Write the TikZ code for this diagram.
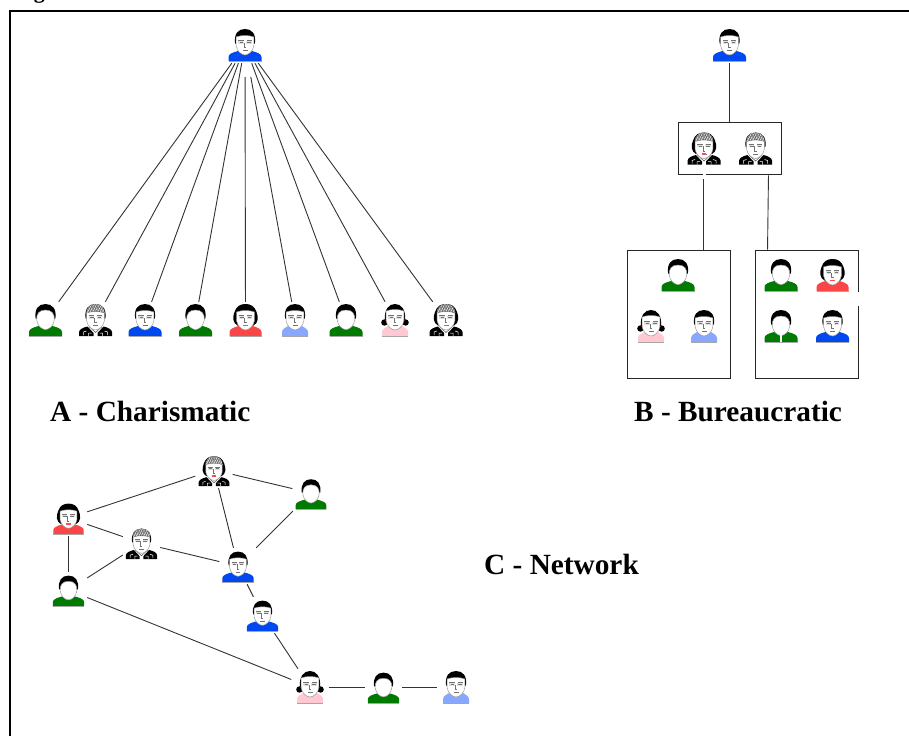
\documentclass[tikz,border=0pt]{standalone}
\usepackage{fontspec}
\setmainfont{Liberation Serif}
\usetikzlibrary{calc}
\definecolor{sgreen}{RGB}{0,122,0}
\definecolor{sblue}{RGB}{0,72,240}
\definecolor{slblue}{RGB}{136,168,255}
\definecolor{spink}{RGB}{255,200,210}
\definecolor{sred}{RGB}{250,70,70}
\definecolor{hatch}{RGB}{140,140,140}
\tikzset{
  pnode/.style={inner sep=0pt,minimum width=37pt,minimum height=36pt},
  conn/.style={draw=black!80,line width=0.9pt},
  frameline/.style={draw=black,line width=2.2pt},
  grp/.style={draw=black!85,line width=0.95pt,inner sep=0pt,fill=none},
  lbl/.style={font=\bfseries\fontsize{29.3}{32}\selectfont,inner sep=0pt,anchor=base west},
  feat/.style={draw=black!55,line width=0.5pt},
  faceedge/.style={draw=black!40,line width=0.5pt,fill=white}
}
% ---- parts, drawn about the bottom centre of the figure (y grows downward)
\newcommand{\shirtpart}[2]{%
  \fill[#1] (-#2,0) -- (-#2,-4) .. controls (-#2,-7) and (-#2+4,-8.5) .. (-7,-10) -- (0,-6) -- (7,-10)
     .. controls (#2-4,-8.5) and (#2,-7) .. (#2,-4) -- (#2,0) -- cycle;
  \draw[black!35,line width=0.4pt] (-#2,0) -- (#2,0);}
\newcommand{\capshort}[1]{%
  \fill[#1] (-9.9,-17.5) .. controls (-11.2,-27) and (-7,-32) .. (0,-32) .. controls (7,-32) and (11.2,-27) .. (9.9,-17.5) -- cycle;}
\newcommand{\caplong}[1]{%
  \fill[#1] (-8,-10.5) .. controls (-13,-13) and (-13,-19) .. (-11,-24) .. controls (-9,-30) and (-5,-32) .. (0,-32)
     .. controls (5,-32) and (9,-30) .. (11,-24) .. controls (13,-19) and (13,-13) .. (8,-10.5) -- cycle;}
\newcommand{\facepart}[1]{%
  \path[faceedge] (-8.8,-15) -- (-8.8,#1) .. controls (-4,#1-2) and (4,#1-2) .. (8.8,#1) -- (8.8,-15)
     .. controls (8,-10) and (3.5,-6) .. (0,-6) .. controls (-3.5,-6) and (-8,-10) .. (-8.8,-15) -- cycle;}
\newcommand{\featpart}{%
  \fill[black!12] (-6.8,-20.5) rectangle (-1.2,-17.4);
  \fill[black!12] (1.2,-20.5) rectangle (6.8,-17.4);
  \draw[feat] (-6.8,-20.6) -- (-1.5,-20.6) (1.5,-20.6) -- (6.8,-20.6);
  \draw[feat] (-5.5,-18.6) -- (-2,-18.6) (2,-18.6) -- (5.5,-18.6);
  \draw[feat] (-1,-18.5) -- (-1,-13.5) -- (1,-13.5);
  \draw[feat] (-2.5,-10.6) -- (2.5,-10.6);}
\newcommand{\lips}{\fill[red!70] (-2.2,-11.4) rectangle (2.2,-9.6);}
\newcommand{\jacket}{%
  \fill[black] (-16.5,0) -- (-16.5,-4) .. controls (-16,-7) and (-12,-8.5) .. (-8,-9.5) -- (-2,-3) -- (-2,0) -- cycle;
  \fill[black] (16.5,0) -- (16.5,-4) .. controls (16,-7) and (12,-8.5) .. (8,-9.5) -- (2,-3) -- (2,0) -- cycle;
  \draw[white,line width=0.5pt] (-12,-1) -- (-12,-4) -- (-9,-5) (12,-1) -- (12,-4) -- (9,-5) (-7,0) -- (-7,-3) -- (-4,-3) (7,0) -- (7,-3) -- (4,-3);
  \draw[black!70,line width=0.5pt] (-6.5,-9.5) -- (0,-3.5) -- (6.5,-9.5);}
\newcommand{\hatchhair}[2]{%
  \begin{scope}
    \clip (-9.2,#1) .. controls (-9.6,-27) and (-6,-32) .. (0,-32) .. controls (6,-32) and (9.6,-27) .. (9.2,#1) .. controls (4,#2) and (-4,#2) .. (-9.2,#1) -- cycle;
    \fill[hatch] (-11,-33) rectangle (11,-15);
    \foreach \hx in {-14,-11.5,...,12}{\draw[white,line width=0.45pt] (\hx,-22) -- (\hx+6,-33);
      \draw[black!70,line width=0.35pt] (\hx+1,-33) -- (\hx+7,-22);}
  \end{scope}}
% ---- figures
\newcommand{\fplain}[2]{\shirtpart{#1}{#2}\capshort{black}\facepart{-24}\featpart}
\newcommand{\fbald}[1]{\shirtpart{sgreen}{16.5}\capshort{black}\path[faceedge] (-8.8,-16) .. controls (-9.2,-22) and (-6.5,-26) .. (0,-26) .. controls (6.5,-26) and (9.2,-22) .. (8.8,-16)
     .. controls (8,-10) and (3.5,-6.5) .. (0,-6.5) .. controls (-3.5,-6.5) and (-8,-10) .. (-8.8,-16) -- cycle;#1}
\newcommand{\splitshirt}{\fill[white] (-1,0) rectangle (1,-7);}
\newcommand{\fwoman}{\shirtpart{sred}{16}\caplong{black}\facepart{-24}\featpart\lips}
\newcommand{\fpig}{\shirtpart{spink}{13}\fill[black] (-10.6,-13.5) circle (3.2) (10.6,-13.5) circle (3.2);
  \fill[black] (-10.2,-15) .. controls (-11,-27) and (-6,-32) .. (0,-32) .. controls (6,-32) and (11,-27) .. (10.2,-15) -- cycle;
  \facepart{-25}\featpart\fill[red!40] (-8.6,-15.8) circle (0.8) (8.6,-15.8) circle (0.8);}
\newcommand{\fsuit}{\jacket\capshort{black}\facepart{-23}\hatchhair{-23}{-25.5}\featpart}
\newcommand{\fsuitw}{\jacket\caplong{black}\facepart{-23}\hatchhair{-23}{-25.5}\featpart\lips}
\newcommand{\fig}[6]{% name, x, bottom y, scale, drawing
  \node[pnode] (#1) at (#2,#3-16) {};
  \begin{scope}[shift={(#2,#3)},scale=#4]#5\end{scope}}
\begin{document}
\begin{tikzpicture}[x=1pt,y=-1pt]
\useasboundingbox (0,0) rectangle (909,736);
\fill[white] (0,0) rectangle (909,736);
% caption, cut by the top edge as in the reference
\node[font=\bfseries\fontsize{22}{24}\selectfont,inner sep=0pt,anchor=base west] (cap) at (14,-1.5) {Figure};
\draw[frameline] (909,11) -- (10,11) -- (10,736);
% A
\fig{at}{245}{61}{1}{\fplain{sblue}{16.5}}{}
\fig{a1}{45.5}{336}{1}{\fbald{}}{}
\fig{a2}{95.5}{336}{1}{\fsuit}{}
\fig{a3}{145}{336}{1}{\fplain{sblue}{16.5}}{}
\fig{a4}{195.5}{336}{1}{\fbald{}}{}
\fig{a5}{245.5}{336}{1}{\fwoman}{}
\fig{a6}{295}{336}{1}{\fplain{slblue}{13}}{}
\fig{a7}{346}{336}{1}{\fbald{}}{}
\fig{a8}{395}{336}{1}{\fpig}{}
\fig{a9}{446}{336}{1}{\fsuitw}{}
\foreach \t in {a1,a2,a3,a4,a7,a8,a9}{\draw[conn] (at) -- (\t);}
\draw[conn,shorten <=14pt] (at) -- (a5);
\draw[conn,shorten <=14pt] (at) -- (a6);
% B
\fig{bt}{729.5}{61}{1}{\fplain{sblue}{16.5}}{}
\node[grp,minimum width=103pt,minimum height=52pt] (bx1) at (729.5,148) {};
\fig{bs1}{704}{164.5}{1}{\fsuitw}{}
\fig{bs2}{755.5}{164.5}{1}{\fsuit}{}
\node[grp,minimum width=103pt,minimum height=128pt] (bx2) at (678.5,314) {};
\node[grp,minimum width=103pt,minimum height=128pt] (bx3) at (806.5,314) {};
\fig{b1}{678}{291}{1}{\fbald{}}{}
\fig{b2}{651}{342}{1}{\fpig}{}
\fig{b3}{704}{342}{1}{\fplain{slblue}{13}}{}
\fig{b4}{781}{291}{1}{\fbald{}}{}
\fig{b5}{832.5}{291}{1}{\fwoman}{}
\fig{b6}{781}{342}{1}{\fbald{\splitshirt}}{}
\fig{b7}{832.5}{342}{1}{\fplain{sblue}{16.5}}{}
\fill[white] ($(bx3.east)+(-2,-22)$) rectangle ($(bx3.east)+(2,-8)$);
\fill[white] ($(bx1.south)+(-27,-2)$) rectangle ($(bx1.south)+(-24,2)$);
\draw[conn] (bt) -- (bx1);
\draw[conn] ($(bx1.south west)+(26,5)$) -- ($(bx2.north west)+(77,0)$);
\draw[conn] ($(bx1.south east)+(-13,1)$) -- ($(bx3.north west)+(13,0)$);
% C
\fig{c1}{214}{486}{0.93}{\fsuitw}{}
\fig{c2}{311}{509}{0.93}{\fbald{}}{}
\fig{c3}{68.5}{534}{0.95}{\fwoman}{}
\fig{c4}{141.5}{559}{0.95}{\fsuit}{}
\fig{c5}{68.5}{606}{0.95}{\fbald{}}{}
\fig{c6}{238}{582}{0.95}{\fplain{sblue}{16.5}}{}
\fig{c7}{262.5}{631}{0.95}{\fplain{sblue}{16.5}}{}
\fig{c8}{310}{703}{1}{\fpig}{}
\fig{c9}{383.5}{703}{0.95}{\fbald{}}{}
\fig{c10}{456}{703}{1}{\fplain{slblue}{13}}{}
\foreach \s/\t in {c1/c2,c1/c3,c1/c6,c3/c4,c3/c5,c4/c5,c4/c6,c2/c6,c6/c7,c5/c8,c7/c8,c8/c9,c9/c10}{\draw[conn] (\s) -- (\t);}
% labels
\node[lbl] (la) at (50,421) {A - Charismatic};
\node[lbl] (lb) at (634,421) {B - Bureaucratic};
\node[lbl] (lc) at (484,574) {C - Network};
\end{tikzpicture}
\end{document}
